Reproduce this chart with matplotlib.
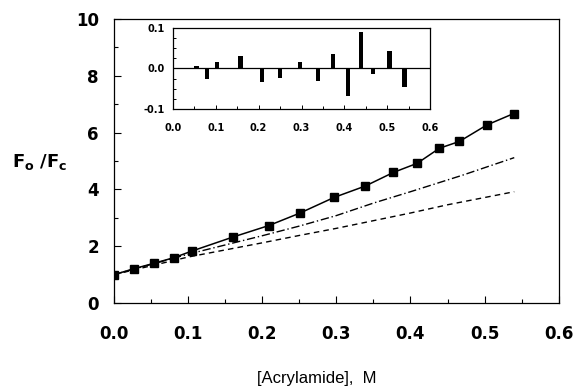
import matplotlib
matplotlib.use("Agg")
import matplotlib.pyplot as plt
from matplotlib.ticker import MultipleLocator

plt.rcParams['font.family'] = ['Liberation Sans', 'DejaVu Sans']

# Data
acryl = [0.0, 0.027, 0.054, 0.081, 0.105, 0.160, 0.209, 0.251, 0.297, 0.339,
         0.377, 0.409, 0.439, 0.466, 0.503, 0.539]
fofc = [1.00, 1.21, 1.40, 1.60, 1.83, 2.32, 2.73, 3.17, 3.72, 4.12,
        4.60, 4.92, 5.45, 5.69, 6.27, 6.67]

dashdot_x = [0.0, 0.1, 0.2, 0.25, 0.3, 0.35, 0.4, 0.47, 0.54]
dashdot_y = [1.0, 1.72, 2.37, 2.71, 3.08, 3.52, 3.92, 4.50, 5.12]

dashed_x = [0.0, 0.1, 0.2, 0.25, 0.3, 0.4, 0.45, 0.54]
dashed_y = [1.0, 1.62, 2.12, 2.38, 2.63, 3.17, 3.46, 3.92]

resid_x = [0.055, 0.080, 0.103, 0.158, 0.208, 0.250, 0.297, 0.338, 0.374,
           0.409, 0.439, 0.466, 0.505, 0.540]
resid_y = [0.006, -0.026, 0.015, 0.030, -0.034, -0.024, 0.015, -0.030, 0.035,
           -0.068, 0.091, -0.014, 0.042, -0.046]

main_xticks = [0.0, 0.1, 0.2, 0.3, 0.4, 0.5, 0.6]
main_yticks = [0, 2, 4, 6, 8, 10]
inset_yticks = [-0.1, 0.0, 0.1]

fig = plt.figure(figsize=(5.76, 3.89), dpi=100)
ax = fig.add_axes([0.198, 0.221, 0.772, 0.730])

ax.plot(acryl, fofc, '-', color='black', lw=1.1, marker='s', ms=5.5,
        mfc='black', mec='black')
ax.plot(dashdot_x, dashdot_y, color='black', lw=1.0, linestyle=(0, (6, 2, 1, 2)))
ax.plot(dashed_x, dashed_y, color='black', lw=1.0, linestyle=(0, (4, 3)))

ax.set_xlim(0, 0.6)
ax.set_ylim(0, 10)
ax.set_xticks(main_xticks)
ax.set_xticklabels([f"{v:.1f}" for v in main_xticks])
ax.set_yticks(main_yticks)
ax.xaxis.set_minor_locator(MultipleLocator(0.05))
ax.yaxis.set_minor_locator(MultipleLocator(1))
ax.tick_params(which='both', direction='in', top=False, right=False,
               labelsize=12, width=0.8)
ax.tick_params(which='major', length=5)
ax.tick_params(axis='x', which='major', pad=16)
ax.tick_params(axis='y', which='major', pad=11)
ax.tick_params(which='minor', length=3)
for lab in ax.get_xticklabels() + ax.get_yticklabels():
    lab.set_fontweight('bold')
    lab.set_family('DejaVu Sans')
for sp in ax.spines.values():
    sp.set_linewidth(0.9)

fig.text(12/576, 1 - 162/389, r'F$_\mathregular{o}$ /F$_\mathregular{c}$',
         fontsize=13, ha='left', va='center', fontweight='bold',
         family='DejaVu Sans')
fig.text(317/576, 1 - 378/389, '[Acrylamide],  M', fontsize=12,
         ha='center', va='center')

# inset
ins = fig.add_axes([0.300, 0.720, 0.447, 0.208])
ins.bar(resid_x, resid_y, width=0.010, color='black')
ins.axhline(0, color='black', lw=0.9)
ins.set_xlim(0, 0.6)
ins.set_ylim(-0.1, 0.1)
ins.set_xticks(main_xticks)
ins.set_xticklabels([f"{v:.1f}" for v in main_xticks])
ins.set_yticks(inset_yticks)
ins.set_yticklabels([f"{v:.1f}" for v in inset_yticks])
ins.xaxis.set_minor_locator(MultipleLocator(0.05))
ins.yaxis.set_minor_locator(MultipleLocator(0.025))
ins.tick_params(which='both', direction='in', top=False, right=False,
                labelsize=7, width=0.7)
ins.tick_params(which='major', length=3)
ins.tick_params(axis='x', which='major', pad=10)
ins.tick_params(axis='y', which='major', pad=6)
ins.tick_params(which='minor', length=2)
for lab in ins.get_xticklabels() + ins.get_yticklabels():
    lab.set_fontweight('bold')
    lab.set_family('DejaVu Sans')
for sp in ins.spines.values():
    sp.set_linewidth(0.9)

fig.savefig('out.png', dpi=100)
